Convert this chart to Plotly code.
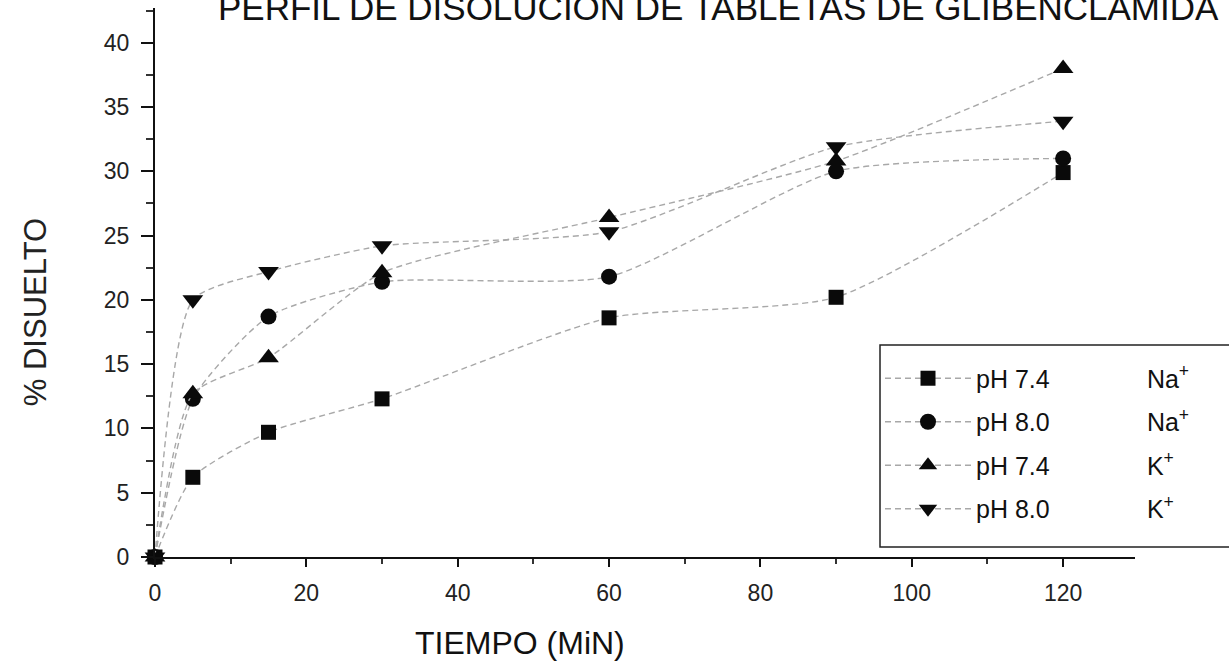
import plotly.graph_objects as go

# Dissolution profile of glibenclamide tablets
tiempo = [0, 5, 15, 30, 60, 90, 120]
na_ph74 = [0, 6.2, 9.7, 12.3, 18.6, 20.2, 29.9]
na_ph80 = [0, 12.3, 18.7, 21.4, 21.8, 30.0, 31.0]
k_ph74 = [0, 12.7, 15.5, 22.1, 26.4, 30.8, 38.0]
k_ph80 = [0, 20.0, 22.2, 24.2, 25.3, 31.9, 33.9]

x_ticks = [0, 20, 40, 60, 80, 100, 120]
y_ticks = [0, 5, 10, 15, 20, 25, 30, 35, 40]

sp = "\u00a0" * 14
series = [
    ("pH 7.4" + sp + "Na<sup>+</sup>", na_ph74, "square", 15),
    ("pH 8.0" + sp + "Na<sup>+</sup>", na_ph80, "circle", 16),
    ("pH 7.4" + sp + "K<sup>+</sup>", k_ph74, "triangle-up", 18),
    ("pH 8.0" + sp + "K<sup>+</sup>", k_ph80, "triangle-down", 18),
]

FONT = "Liberation Sans, Arial, sans-serif"

fig = go.Figure()
for i, (name, vals, sym, size) in enumerate(series):
    fig.add_trace(go.Scatter(
        x=tiempo, y=vals, name=name, mode="lines+markers",
        legendgroup=f"g{i}",
        line=dict(color="#a8a8a8", width=1.4, dash="6px,4px", shape="spline", smoothing=0.6),
        marker=dict(symbol=sym, size=size, color="#0a0a0a", line=dict(width=0)),
        cliponaxis=False,
    ))

axis_common = dict(
    showgrid=False, zeroline=False, showline=True, linecolor="#111", linewidth=2,
    ticks="outside", tickcolor="#111", tickwidth=1.5,
    tickfont=dict(family=FONT, size=23, color="#222"),
)

fig.update_xaxes(
    range=[0, 129.5], tickvals=x_ticks, ticklen=8, ticklabelstandoff=6,
    minor=dict(dtick=10, tick0=0, ticks="outside", ticklen=5, tickcolor="#333"),
    **axis_common,
)
fig.update_yaxes(
    range=[0, 42.7], tickvals=y_ticks, ticklen=12, ticklabelstandoff=7,
    minor=dict(dtick=2.5, tick0=0, ticks="outside", ticklen=7, tickcolor="#333"),
    **axis_common,
)

fig.add_annotation(
    text="PERFIL DE DISOLUCION DE TABLETAS DE GLIBENCLAMIDA",
    xref="paper", yref="paper", x=0.062, y=0.962, xanchor="left", yanchor="bottom",
    showarrow=False, font=dict(family=FONT, size=35, color="#111"),
)
fig.add_annotation(
    text="TIEMPO (MiN)", xref="paper", yref="paper", x=0.3724, y=-0.1566,
    xanchor="center", yanchor="middle", showarrow=False,
    font=dict(family=FONT, size=32, color="#111"),
)
fig.add_annotation(
    text="% DISUELTO", xref="paper", yref="paper", x=-0.1224, y=0.446,
    xanchor="center", yanchor="middle", textangle=-90, showarrow=False,
    font=dict(family=FONT, size=31, color="#222"),
)

# legend frame, running past the right edge of the page
fig.add_shape(
    type="rect", xref="paper", yref="paper", x0=0.7398, x1=1.11, y0=0.018, y1=0.386,
    line=dict(color="#222", width=1.5), fillcolor="rgba(0,0,0,0)", layer="above",
)

fig.update_layout(
    width=1229, height=669, autosize=False,
    margin=dict(l=155, r=94, t=8, b=112),
    paper_bgcolor="white", plot_bgcolor="white",
    showlegend=True,
    legend=dict(
        x=0.7398, y=0.386, xanchor="left", yanchor="top",
        bgcolor="rgba(0,0,0,0)", borderwidth=0,
        font=dict(family=FONT, size=25, color="#111"),
        itemwidth=86, tracegroupgap=8,
        title=dict(text="\u00a0", font=dict(size=8)),
    ),
)

fig.write_html("out.html")
